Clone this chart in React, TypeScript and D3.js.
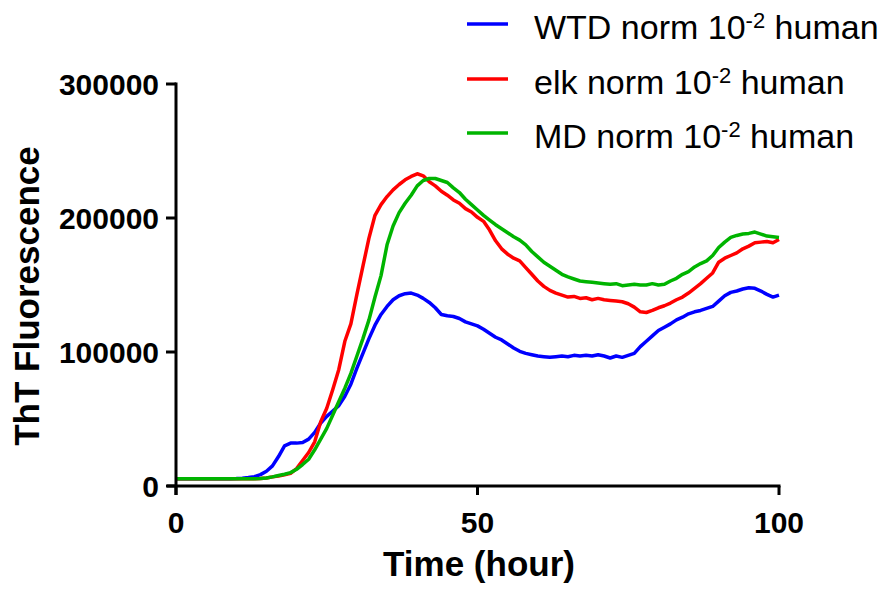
import React from "react";
import * as d3 from "d3";

// Time in hours
const hours = [
  0, 1, 2, 3, 4, 5, 6, 7, 8, 9, 10, 11, 12, 13, 14, 15, 16, 17, 18, 19, 20,
  21, 22, 23, 24, 25, 26, 27, 28, 29, 30, 31, 32, 33, 34, 35, 36, 37, 38, 39, 40,
  41, 42, 43, 44, 45, 46, 47, 48, 49, 50, 51, 52, 53, 54, 55, 56, 57, 58, 59, 60,
  61, 62, 63, 64, 65, 66, 67, 68, 69, 70, 71, 72, 73, 74, 75, 76, 77, 78, 79, 80,
  81, 82, 83, 84, 85, 86, 87, 88, 89, 90, 91, 92, 93, 94, 95, 96, 97, 98, 99, 100,
];

// ThT fluorescence, thousands
const wtdValues = [
  5.5, 5.5, 5.5, 5.5, 5.5, 5.5, 5.5, 5.5, 5.5, 5.5, 5.6, 5.8, 6.3, 7, 8.5, 11, 15, 22, 30, 32, 32,
  32.5, 35, 40, 47, 52, 56, 60, 67, 76, 88, 99, 110, 120, 128, 134, 139, 142, 143.5, 144, 142.5,
  140, 137, 133, 128, 127, 126.5, 125, 122.5, 121, 119.5, 117, 114, 111, 109, 106, 103, 100.5, 99, 98, 97,
  96.5, 96, 96.5, 97, 96.5, 97.5, 97, 97.5, 97, 98, 97, 95.5, 97, 96, 97.5, 99, 104, 108, 112, 116,
  118.5, 121, 124, 126, 128.5, 130, 131, 132.5, 134, 138, 142, 144.5, 145.5, 147, 148, 147.5, 145.5, 143, 141, 142.5,
];
const elkValues = [
  5.5, 5.5, 5.5, 5.5, 5.5, 5.5, 5.5, 5.5, 5.5, 5.5, 5.5, 5.5, 5.5, 5.5, 5.6, 6, 6.8, 7.5, 8.3, 9.5, 13,
  19, 25, 33, 48, 58, 72, 87, 108, 121, 143, 164, 185, 202, 210, 216, 221, 225, 228.5, 231, 233,
  231.5, 227, 224, 220, 217, 213.5, 211, 207, 204.5, 200.5, 197.5, 191, 183, 177, 173, 170, 168, 163, 158, 153,
  149, 146, 144, 142.5, 141, 141.5, 140, 140.5, 139, 140, 139, 138.5, 138, 137.5, 136, 133.5, 130, 129.5, 131, 133,
  134.5, 136.5, 139, 141, 144, 147.5, 151, 155, 159, 167, 170, 172, 174, 177, 179, 181.5, 182, 182.5, 181.5, 184,
];
const mdValues = [
  5.5, 5.5, 5.5, 5.5, 5.5, 5.5, 5.5, 5.5, 5.5, 5.5, 5.5, 5.5, 5.5, 5.5, 5.6, 6, 6.8, 7.8, 8.8, 10, 12.5,
  16, 20, 27, 35, 43, 53, 63, 73, 84, 97, 110, 124, 141, 157, 180, 194, 204, 211, 217, 224,
  228, 229.5, 229.5, 228, 226.5, 222.5, 219, 214, 210, 206, 202, 198.5, 195, 192, 189, 186, 183.5, 180, 175, 171,
  167, 164, 161, 158, 156, 154.5, 153, 152.5, 152, 151.5, 151, 150.5, 151, 149.5, 150, 150.5, 150, 150, 151, 150,
  150.5, 153, 155, 158, 160, 163.5, 166, 168, 172, 178, 182, 185.5, 187, 188, 188.5, 189.5, 188, 186.5, 186, 185.5,
];

const seriesNames = ["WTD", "elk", "MD"];
const seriesColors = ["#0000ff", "#ff0000", "#00b400"];
const seriesData = [wtdValues, elkValues, mdValues];

const xTicks = [0, 50, 100];
const yTicks = [0, 100000, 200000, 300000];

const FONT = "'Liberation Sans', Arial, Helvetica, sans-serif";

export default function App() {
  const W = 884;
  const H = 590;
  const x = d3.scaleLinear().domain([0, 100]).range([176, 779]);
  const y = d3.scaleLinear().domain([0, 300000]).range([486, 84]);
  const line = d3
    .line<number>()
    .x((_, i) => x(hours[i]))
    .y((v) => y(v * 1000));

  const legendY = [24, 79, 133];

  return (
    <svg
      width={W}
      height={H}
      style={{ position: "absolute", left: 0, top: 0, background: "#fff" }}
      fontFamily={FONT}
    >
      {/* data lines */}
      {seriesData.map((vals, k) => (
        <path
          key={k}
          d={line(vals) || ""}
          fill="none"
          stroke={seriesColors[k]}
          strokeWidth={3.5}
          strokeLinejoin="round"
        />
      ))}

      {/* axes */}
      <line x1={x(0)} x2={x(0)} y1={y(300000) - 1.5} y2={y(0) + 9} stroke="#000" strokeWidth={3} />
      <line x1={x(0) - 9} x2={x(100) + 1.5} y1={y(0)} y2={y(0)} stroke="#000" strokeWidth={3} />
      {yTicks.map((t) => (
        <g key={"y" + t}>
          <line x1={x(0) - 10} x2={x(0)} y1={y(t)} y2={y(t)} stroke="#000" strokeWidth={3} />
          <text
            x={x(0) - 17}
            y={y(t) + 10.5}
            textAnchor="end"
            fontSize={30}
            fontWeight="bold"
          >
            {t}
          </text>
        </g>
      ))}
      {xTicks.map((t) => (
        <g key={"x" + t}>
          <line x1={x(t)} x2={x(t)} y1={y(0)} y2={y(0) + 9} stroke="#000" strokeWidth={3} />
          <text x={x(t)} y={533} textAnchor="middle" fontSize={30} fontWeight="bold">
            {t}
          </text>
        </g>
      ))}

      {/* axis titles */}
      <text x={479} y={576} textAnchor="middle" fontSize={35} fontWeight="bold">
        Time (hour)
      </text>
      <text
        transform={`translate(39,296) rotate(-90)`}
        textAnchor="middle"
        fontSize={35}
        fontWeight="bold"
      >
        ThT Fluorescence
      </text>

      {/* legend */}
      {seriesNames.map((n, k) => (
        <g key={"lg" + k}>
          <line
            x1={467}
            x2={508}
            y1={legendY[k]}
            y2={legendY[k]}
            stroke={seriesColors[k]}
            strokeWidth={3.5}
          />
          <text x={534} y={legendY[k] + 15} fontSize={34}>
            {n} norm 10
            <tspan fontSize={22} dy={-11}>-2</tspan>
            <tspan dy={11}> human</tspan>
          </text>
        </g>
      ))}
    </svg>
  );
}
